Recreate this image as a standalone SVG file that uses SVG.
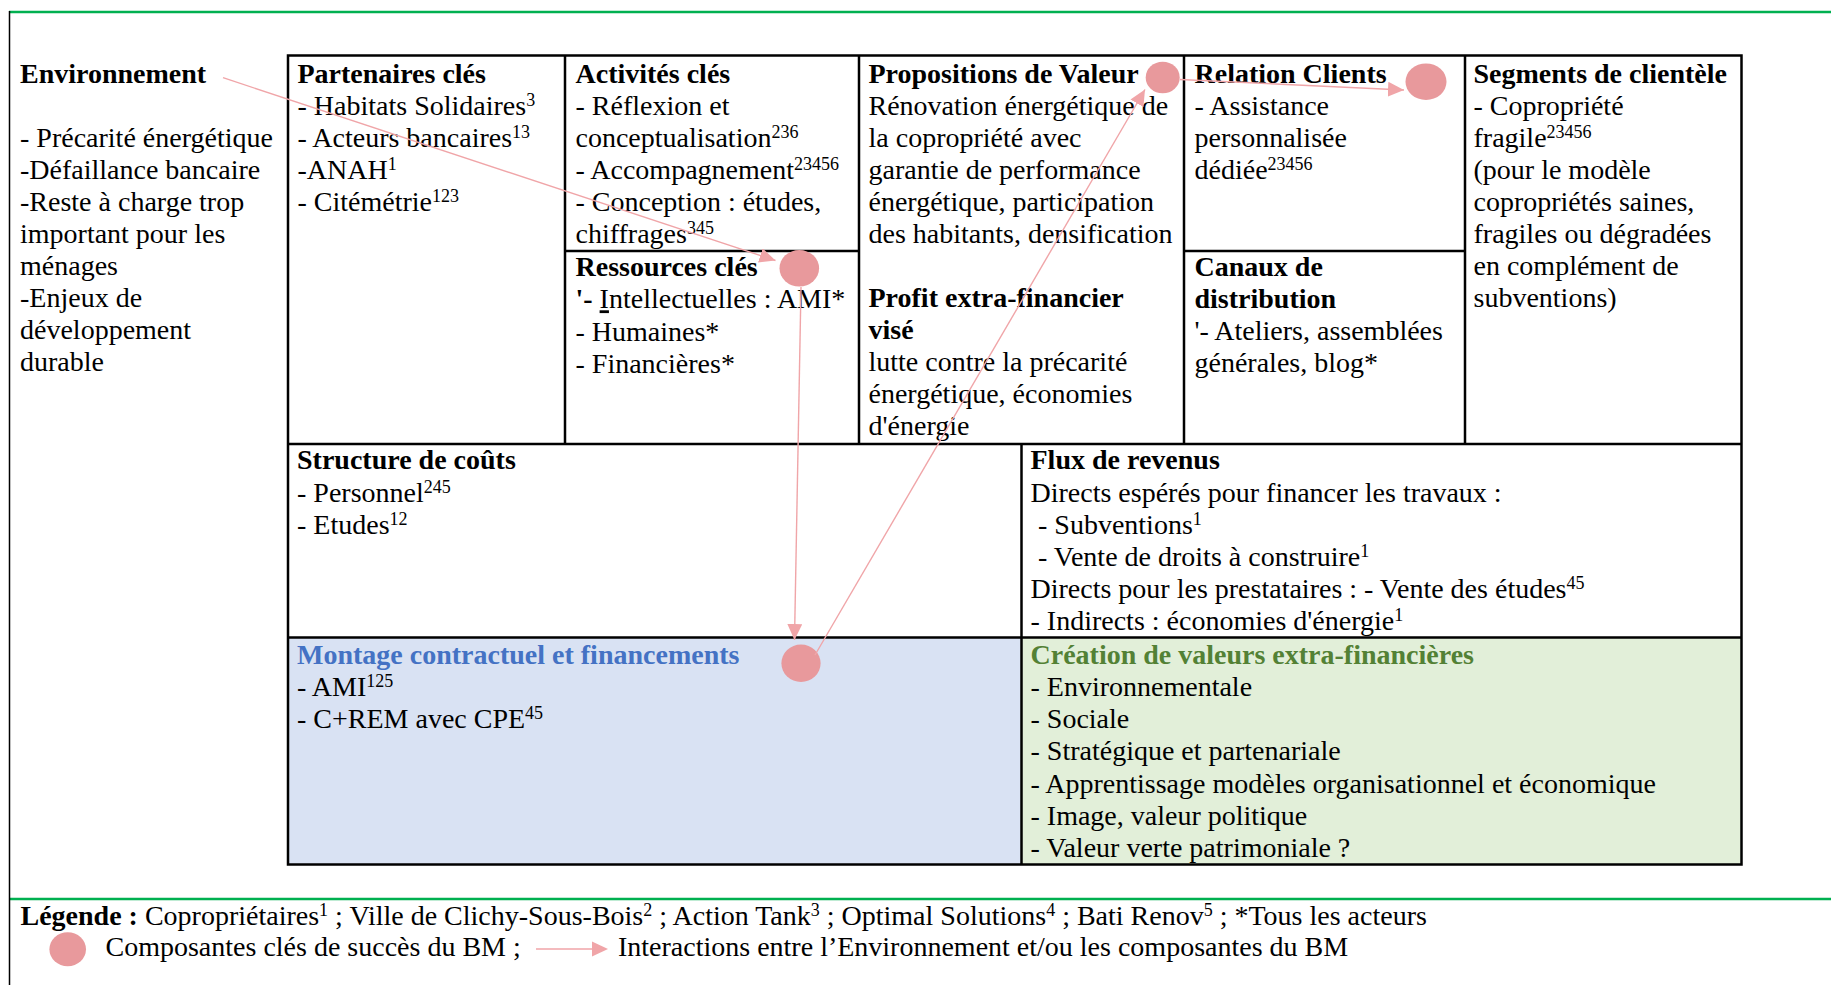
<svg xmlns="http://www.w3.org/2000/svg" width="1831" height="985" viewBox="0 0 1831 985">
<style>
text{font-family:"Liberation Serif","Times New Roman",serif;font-size:28px;fill:#000}
.b{font-weight:bold}
.s{font-size:18px}
.blue{fill:#4472C4;font-weight:bold}
.green{fill:#538135;font-weight:bold}
.grid{stroke:#000;stroke-width:2.5;fill:none}
.gl{stroke:#00B050;stroke-width:2.3}
.dot{fill:#E8999C}
.con{stroke:#F0A5A8;stroke-width:1.4;fill:none;marker-end:url(#ah)}
</style>
<defs>
<marker id="ah" markerUnits="userSpaceOnUse" markerWidth="17" markerHeight="16" refX="16" refY="7.5" orient="auto">
<path d="M0,0 L16,7.5 L0,15 z" fill="#F0A5A8"/>
</marker>
</defs>
<rect width="1831" height="985" fill="#fff"/>
<g id="frame">
<line class="gl" x1="9" y1="12" x2="1831" y2="12"/>
<line class="gl" x1="9" y1="899" x2="1831" y2="899"/>
<line x1="9.5" y1="11" x2="9.5" y2="985" stroke="#000" stroke-width="1.5"/>
</g>
<g id="fills">
<rect x="288" y="637.5" width="733.5" height="227" fill="#D9E2F3"/>
<rect x="1021.5" y="637.5" width="720" height="227" fill="#E2EFD9"/>
</g>
<g id="grid" class="grid">
<rect x="288" y="55.5" width="1453.5" height="809"/>
<line x1="565" y1="55.5" x2="565" y2="444"/>
<line x1="859" y1="55.5" x2="859" y2="444"/>
<line x1="1184" y1="55.5" x2="1184" y2="444"/>
<line x1="1465" y1="55.5" x2="1465" y2="444"/>
<line x1="288" y1="444" x2="1741.5" y2="444"/>
<line x1="565" y1="251" x2="859" y2="251"/>
<line x1="1184" y1="251" x2="1465" y2="251"/>
<line x1="1021.5" y1="444" x2="1021.5" y2="864.5"/>
<line x1="288" y1="637.5" x2="1741.5" y2="637.5"/>
</g>
<g id="environnement">
<text x="20" y="82.7" class="b">Environnement</text>
<text x="20" y="146.8">- Précarité énergétique</text>
<text x="20" y="178.85">-Défaillance bancaire</text>
<text x="20" y="210.9">-Reste à charge trop</text>
<text x="20" y="242.95">important pour les</text>
<text x="20" y="275">ménages</text>
<text x="20" y="307.05">-Enjeux de</text>
<text x="20" y="339.1">développement</text>
<text x="20" y="371.15">durable</text>
</g>
<g id="partenaires">
<text x="297.5" y="82.7" class="b">Partenaires clés</text>
<text x="297.5" y="114.75">- Habitats Solidaires<tspan class="s" dy="-9">3</tspan></text>
<text x="297.5" y="146.8">- Acteurs bancaires<tspan class="s" dy="-9">13</tspan></text>
<text x="297.5" y="178.85">-ANAH<tspan class="s" dy="-9">1</tspan></text>
<text x="297.5" y="210.9">- Citémétrie<tspan class="s" dy="-9">123</tspan></text>
</g>
<g id="activites">
<text x="575.5" y="82.7" class="b">Activités clés</text>
<text x="575.5" y="114.75">- Réflexion et</text>
<text x="575.5" y="146.8">conceptualisation<tspan class="s" dy="-9">236</tspan></text>
<text x="575.5" y="178.85">- Accompagnement<tspan class="s" dy="-9">23456</tspan></text>
<text x="575.5" y="210.9">- Conception : études,</text>
<text x="575.5" y="242.95">chiffrages<tspan class="s" dy="-9">345</tspan></text>
</g>
<g id="ressources">
<text x="575.5" y="276" class="b">Ressources clés</text>
<text x="575.5" y="308.3"><tspan class="b">'- </tspan><tspan text-decoration="underline">I</tspan>ntellectuelles :  AMI*</text>
<text x="575.5" y="340.5">- Humaines*</text>
<text x="575.5" y="372.6">- Financières*</text>
</g>
<g id="propositions">
<text x="868.5" y="82.7" class="b">Propositions de Valeur</text>
<text x="868.5" y="114.75">Rénovation énergétique de</text>
<text x="868.5" y="146.8">la copropriété avec</text>
<text x="868.5" y="178.85">garantie de performance</text>
<text x="868.5" y="210.9">énergétique, participation</text>
<text x="868.5" y="242.95">des habitants, densification</text>
<text x="868.5" y="307.05" class="b">Profit extra-financier</text>
<text x="868.5" y="339.1" class="b">visé</text>
<text x="868.5" y="371.15">lutte contre la précarité</text>
<text x="868.5" y="403.2">énergétique, économies</text>
<text x="868.5" y="435.25">d'énergie</text>
</g>
<g id="relation">
<text x="1194.5" y="82.7" class="b">Relation Clients</text>
<text x="1194.5" y="114.75">- Assistance</text>
<text x="1194.5" y="146.8">personnalisée</text>
<text x="1194.5" y="178.85">dédiée<tspan class="s" dy="-9">23456</tspan></text>
</g>
<g id="canaux">
<text x="1194.5" y="276" class="b">Canaux de</text>
<text x="1194.5" y="307.5" class="b">distribution</text>
<text x="1194.5" y="340">'- Ateliers, assemblées</text>
<text x="1194.5" y="371.8">générales, blog*</text>
</g>
<g id="segments">
<text x="1473.5" y="82.7" class="b">Segments de clientèle</text>
<text x="1473.5" y="114.75">- Copropriété</text>
<text x="1473.5" y="146.8">fragile<tspan class="s" dy="-9">23456</tspan></text>
<text x="1473.5" y="178.85">(pour le modèle</text>
<text x="1473.5" y="210.9">copropriétés saines,</text>
<text x="1473.5" y="242.95">fragiles ou dégradées</text>
<text x="1473.5" y="275">en complément de</text>
<text x="1473.5" y="307.05">subventions)</text>
</g>
<g id="couts">
<text x="297" y="469.3" class="b">Structure de coûts</text>
<text x="297" y="501.7">- Personnel<tspan class="s" dy="-9">245</tspan></text>
<text x="297" y="534">- Etudes<tspan class="s" dy="-9">12</tspan></text>
</g>
<g id="revenus">
<text x="1030.5" y="469.3" class="b">Flux de revenus</text>
<text x="1030.5" y="501.7">Directs espérés pour financer les travaux :</text>
<text x="1038" y="533.6">- Subventions<tspan class="s" dy="-9">1</tspan></text>
<text x="1038" y="565.5">- Vente de droits à construire<tspan class="s" dy="-9">1</tspan></text>
<text x="1030.5" y="597.8">Directs pour les prestataires : - Vente des études<tspan class="s" dy="-9">45</tspan></text>
<text x="1030.5" y="630.2">- Indirects : économies d'énergie<tspan class="s" dy="-9">1</tspan></text>
</g>
<g id="montage">
<text x="297" y="663.5" class="blue">Montage contractuel et financements</text>
<text x="297" y="695.9">- AMI<tspan class="s" dy="-9">125</tspan></text>
<text x="297" y="728.3">- C+REM avec CPE<tspan class="s" dy="-9">45</tspan></text>
</g>
<g id="creation">
<text x="1030.5" y="663.5" class="green">Création de valeurs extra-financières</text>
<text x="1030.5" y="695.9">- Environnementale</text>
<text x="1030.5" y="728.3">- Sociale</text>
<text x="1030.5" y="760.4">- Stratégique et partenariale</text>
<text x="1030.5" y="792.7">- Apprentissage modèles organisationnel et économique</text>
<text x="1030.5" y="825">- Image, valeur politique</text>
<text x="1030.5" y="857">- Valeur verte patrimoniale ?</text>
</g>
<g id="key-nodes">
<ellipse id="node-propositions" class="dot" cx="1162.7" cy="77.5" rx="17" ry="15.8"/>
<ellipse id="node-relation" class="dot" cx="1426" cy="81.7" rx="20.5" ry="18.3"/>
<ellipse id="node-ressources" class="dot" cx="799.3" cy="268.3" rx="19.8" ry="18.3"/>
<ellipse id="node-montage" class="dot" cx="801" cy="663.3" rx="19.6" ry="18.7"/>
</g>
<g id="connectors">
<line class="con" x1="223" y1="77.7" x2="775.5" y2="260.5"/>
<line class="con" x1="801" y1="287" x2="794.5" y2="640"/>
<line class="con" x1="815" y1="655" x2="1145" y2="89.5"/>
<line class="con" x1="1180" y1="79.5" x2="1404" y2="90"/>
</g>
<g id="legend">
<text x="20.5" y="924.5"><tspan class="b">Légende :</tspan> Copropriétaires<tspan class="s" dy="-9">1</tspan><tspan dy="9"> ; Ville de Clichy-Sous-Bois</tspan><tspan class="s" dy="-9">2</tspan><tspan dy="9"> ; Action Tank</tspan><tspan class="s" dy="-9">3</tspan><tspan dy="9"> ; Optimal Solutions</tspan><tspan class="s" dy="-9">4</tspan><tspan dy="9"> ; Bati Renov</tspan><tspan class="s" dy="-9">5</tspan><tspan dy="9"> ; *Tous les acteurs</tspan></text>
<ellipse class="dot" cx="67.7" cy="949.3" rx="18.3" ry="17"/>
<text x="105.5" y="955.5">Composantes clés de succès du BM ;</text>
<line x1="536" y1="949" x2="592" y2="949" stroke="#F0A5A8" stroke-width="1.4"/>
<path d="M592,941.5 L608,949 L592,956.5 z" fill="#F0A5A8"/>
<text x="618" y="955.5">Interactions entre l’Environnement et/ou les composantes du BM</text>
</g>
</svg>
